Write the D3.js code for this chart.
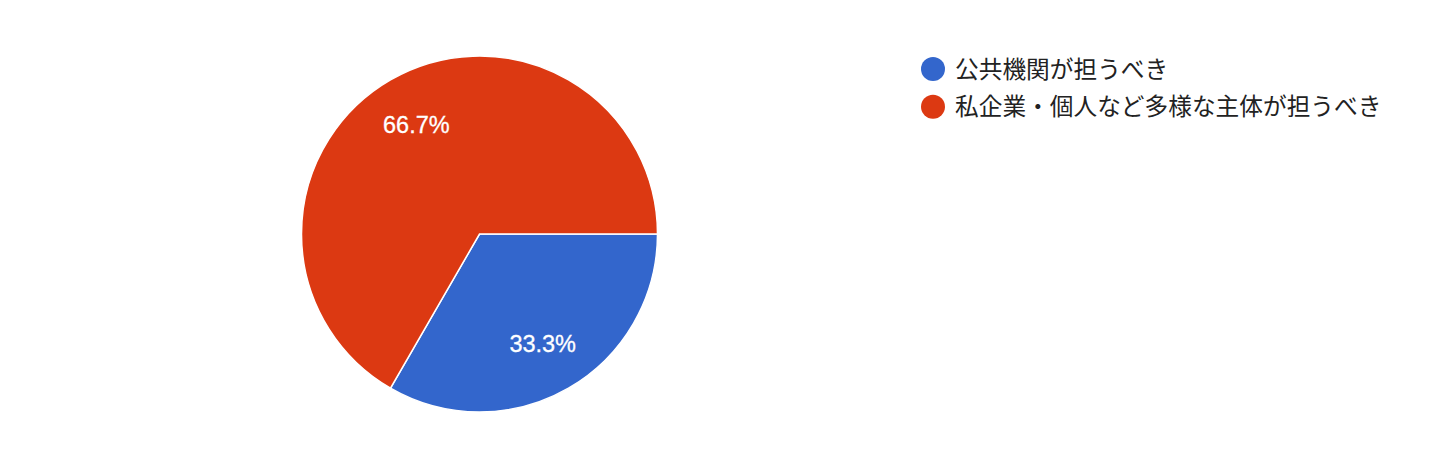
<!DOCTYPE html>
<html>
<head>
<meta charset="utf-8">
<script src="https://cdn.jsdelivr.net/npm/d3@7"></script>
<style>
  body { margin: 0; background: #fff; }
  svg { display: block; }
</style>
</head>
<body>
<div id="chart"></div>
<script>
// data
var categories = ["公共機関が担うべき", "私企業・個人など多様な主体が担うべき"];
var values = [1, 2];
var colors = ["#3366cc", "#dc3912"];

var width = 1456, height = 461;
var cx = 479.5, cy = 234, radius = 178;

var svg = d3.select("#chart").append("svg")
    .attr("width", width)
    .attr("height", height);

var g = svg.append("g")
    .attr("transform", "translate(" + cx + "," + cy + ")");

// pie starts at 3 o'clock, clockwise
var pie = d3.pie()
    .sort(null)
    .startAngle(Math.PI / 2)
    .endAngle(Math.PI / 2 + 2 * Math.PI);

var arc = d3.arc().innerRadius(0).outerRadius(radius);
var labelArc = d3.arc().innerRadius(radius * 0.71).outerRadius(radius * 0.71);

var total = d3.sum(values);
var fmt = d3.format(".1%");
var slices = pie(values);

g.selectAll("path.slice")
    .data(slices)
  .enter().append("path")
    .attr("class", "slice")
    .attr("d", arc)
    .style("fill", function(d, i) { return colors[i]; })
    .style("stroke", "#fff")
    .style("stroke-width", 1.5);

g.selectAll("text.pct")
    .data(slices)
  .enter().append("text")
    .attr("class", "pct")
    .attr("transform", function(d) { return "translate(" + labelArc.centroid(d) + ")"; })
    .attr("text-anchor", "middle")
    .attr("dy", ".35em")
    .style("font-family", "'Liberation Sans', Arial, sans-serif")
    .style("font-size", "23.5px")
    .style("fill", "#fff")
    .style("stroke", "#fff")
    .style("stroke-width", 0.3)
    .text(function(d) { return fmt(d.value / total); });

// legend
var legend = svg.append("g")
    .attr("transform", "translate(933,69)");

var item = legend.selectAll("g.item")
    .data(categories)
  .enter().append("g")
    .attr("class", "item")
    .attr("transform", function(d, i) { return "translate(0," + (i * 37.7) + ")"; });

item.append("circle")
    .attr("r", 12)
    .style("fill", function(d, i) { return colors[i]; });

item.append("text")
    .attr("x", 22)
    .attr("dy", ".36em")
    .style("font-family", "'Noto Sans CJK JP', sans-serif")
    .style("font-size", "23.7px")
    .style("fill", "#222")
    .text(function(d) { return d; });
</script>
</body>
</html>
